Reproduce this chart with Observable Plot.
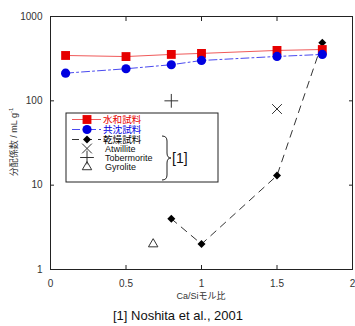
<!DOCTYPE html>
<html><head><meta charset="utf-8">
<script src="https://cdn.jsdelivr.net/npm/d3@7"></script>
<script src="https://cdn.jsdelivr.net/npm/@observablehq/plot@0.6"></script>
<style>body{margin:0;background:#fff}</style></head>
<body><div id="c"></div>
<script>
// Data
const caSi = [0.1, 0.5, 0.8, 1.0, 1.5, 1.8];
const hydrated = [345, 335, 355, 365, 396, 406];   // 水和試料
const coprecip = [213, 240, 268, 301, 336, 355];   // 共沈試料
const driedX = [0.8, 1.0, 1.5, 1.8];
const dried = [4, 2, 13, 490];                      // 乾燥試料
const refNames = ["Atwillite", "Tobermorite", "Gyrolite"];
const refX = [1.5, 0.8, 0.68];
const refY = [80, 100, 2];
const refSymbols = ["times", "plus", "triangle2"];
const xTicks = [0, 0.5, 1, 1.5, 2];
const yTicks = [1, 10, 100, 1000];
const seriesNames = ["水和試料", "共沈試料", "乾燥試料"];
const seriesColors = ["#e60000", "#0000e0", "#000000"];

const hydT = caSi.map((x, i) => ({x, y: hydrated[i]}));
const copT = caSi.map((x, i) => ({x, y: coprecip[i]}));
const dryT = driedX.map((x, i) => ({x, y: dried[i]}));
const refT = refNames.map((n, i) => ({name: n, x: refX[i], y: refY[i], s: refSymbols[i]}));

const font = "'Liberation Sans', Arial, sans-serif";
const jfont = "'Liberation Sans', 'Noto Sans CJK JP', sans-serif";
const blank = () => "";

const chart = Plot.plot({
  width: 355, height: 326,
  marginLeft: 50, marginRight: 3, marginTop: 16, marginBottom: 57,
  style: {fontFamily: font, fontSize: "10px", background: "#fff", color: "#222"},
  x: {domain: [0, 2]},
  y: {type: "log", domain: [1, 1000]},
  marks: [
    Plot.axisX({ticks: xTicks, tickSize: -4, tickFormat: blank, label: null, anchor: "bottom"}),
    Plot.axisX({ticks: xTicks, tickSize: -4, tickFormat: blank, label: null, anchor: "top"}),
    Plot.axisY({ticks: yTicks, tickSize: -4, tickFormat: blank, label: null, anchor: "left"}),
    Plot.axisY({ticks: yTicks, tickSize: -4, tickFormat: blank, label: null, anchor: "right"}),
    Plot.axisX({ticks: xTicks, tickSize: 0, tickPadding: 10, tickFormat: d => String(d), label: null, anchor: "bottom", fill: "#333"}),
    Plot.axisY({ticks: yTicks, tickSize: 0, tickPadding: 8, tickFormat: d => String(d), label: null, anchor: "left", fill: "#333"}),
    Plot.frame({stroke: "#222", strokeWidth: 1}),
    Plot.line(hydT, {x: "x", y: "y", stroke: "#f05a5a", strokeWidth: 1}),
    Plot.line(copT, {x: "x", y: "y", stroke: "#4a4af0", strokeWidth: 1, strokeDasharray: "8,3,2,3"}),
    Plot.line(dryT, {x: "x", y: "y", stroke: "#333", strokeWidth: 1, strokeDasharray: "7,6"}),
    Plot.dot(dryT, {x: "x", y: "y", symbol: "diamond2", r: 3.6, fill: "#000", stroke: "none"}),
    Plot.dot(hydT, {x: "x", y: "y", symbol: "square", r: 5, fill: "#e60000", stroke: "none"}),
    Plot.dot(copT, {x: "x", y: "y", symbol: "circle", r: 4.6, fill: "#0000e0", stroke: "none"}),
    Plot.dot(refT, {x: "x", y: "y", symbol: "s", r: 4.5, stroke: "#333", strokeWidth: 1, fill: "none"})
  ]
});
document.getElementById("c").appendChild(chart);

const svg = d3.select(chart);
// Axis titles
svg.append("text").attr("x", 201).attr("y", 299).attr("text-anchor", "middle")
  .attr("font-family", jfont).attr("font-size", 9).attr("fill", "#333").text("Ca/Siモル比");
const yl = svg.append("text").attr("transform", "translate(17,142) rotate(-90)").attr("text-anchor", "middle")
  .attr("font-family", jfont).attr("font-size", 9).attr("fill", "#333");
yl.append("tspan").text("分配係数 / mL g");
yl.append("tspan").attr("font-size", 6).attr("dy", -4).text("-1");
// Caption
svg.append("text").attr("x", 178).attr("y", 320).attr("text-anchor", "middle")
  .attr("font-family", font).attr("font-size", 13).attr("fill", "#111").text("[1] Noshita et al., 2001");

// Legend
const lg = svg.append("g").attr("text-anchor", "start");
lg.append("rect").attr("x", 66).attr("y", 113).attr("width", 152).attr("height", 69)
  .attr("fill", "#fff").attr("stroke", "#222");
const rowY = [119.5, 129.5, 139.5, 148.5, 157.5, 167];
const lineStyles = [{c: "#f05a5a", d: null}, {c: "#4a4af0", d: "8,3,2,3"}, {c: "#333", d: "7,6"}];
const mk = [d3.symbolSquare, d3.symbolCircle, d3.symbolDiamond2];
const mkSize = [Math.PI * 25, Math.PI * 4.6 * 4.6, Math.PI * 3.6 * 3.6];
seriesNames.forEach((n, i) => {
  const y = rowY[i];
  lg.append("line").attr("x1", 72).attr("x2", 101).attr("y1", y).attr("y2", y)
    .attr("stroke", lineStyles[i].c).attr("stroke-dasharray", lineStyles[i].d);
  lg.append("path").attr("d", d3.symbol(mk[i], mkSize[i])()).attr("transform", `translate(87,${y})`)
    .attr("fill", seriesColors[i]);
  lg.append("text").attr("x", 103).attr("y", y).attr("dy", "0.35em").attr("text-anchor", "start")
    .attr("font-family", jfont).attr("font-size", 9.6).attr("fill", seriesColors[i]).text(n);
});
const refSym = {times: d3.symbolTimes, plus: d3.symbolPlus, triangle2: d3.symbolTriangle2};
refNames.forEach((n, i) => {
  const y = rowY[i + 3];
  lg.append("path").attr("d", d3.symbol(refSym[refSymbols[i]], Math.PI * 4.5 * 4.5)())
    .attr("transform", `translate(87,${y})`).attr("fill", "none").attr("stroke", "#333");
  lg.append("text").attr("x", 105).attr("y", y).attr("dy", "0.35em").attr("text-anchor", "start")
    .attr("font-family", font).attr("font-size", 9).attr("fill", "#111").text(n);
});
// Brace
lg.append("path").attr("d", "M162,136 Q167,136 167,141 L167,153 Q167,158 171,158 Q167,158 167,163 L167,175 Q167,180 162,180")
  .attr("fill", "none").attr("stroke", "#222");
lg.append("text").attr("x", 172).attr("y", 158).attr("dy", "0.35em").attr("text-anchor", "start")
  .attr("font-family", font).attr("font-size", 14).attr("fill", "#111").text("[1]");
</script></body></html>
